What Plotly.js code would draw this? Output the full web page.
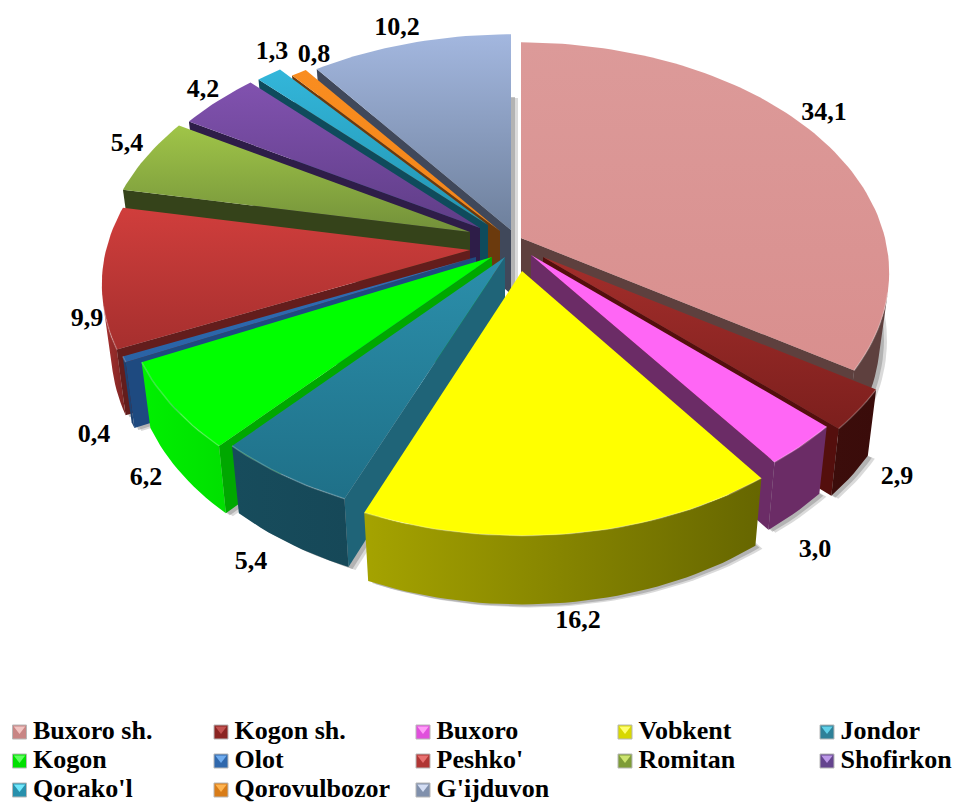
<!DOCTYPE html>
<html><head><meta charset="utf-8">
<script src="https://cdn.plot.ly/plotly-3.0.1.min.js"></script>
<style>html,body{margin:0;padding:0;background:#fff}</style></head>
<body><div id="chart" style="width:956px;height:805px"></div>
<script>
const categories=["Buxoro sh.","Kogon sh.","Buxoro","Vobkent","Jondor","Kogon","Olot","Peshko'","Romitan","Shofirkon","Qorako'l","Qorovulbozor","G'ijduvon"];
const values=[34.1,2.9,3.0,16.2,5.4,6.2,0.4,9.9,5.4,4.2,1.3,0.8,10.2];
// exploded apex of each slice (px), horizontal scale and data-label centres (px)
const apexX=[521,543,531,522,505,492,476,470,470,480,488,500,511];
const apexY=[238,257,255,271,257,257,257,250,232,228,225,231,230];
const widen=[1,1,1,0.983,1,1,1,1,1,1,1,1,1];
const labelX=[824,897,815,578,251,146,94,87,127,203,272,314,397];
const labelY=[113,477,550,621,562,478,435,319,144,90,52,55,28];
// colours: top surface (upper, lower), rim (left, right), cut wall, legend chip
const topHi=["#DC9A99","#A32E2B","#FF66F5","#FFFF00","#2B8FAB","#00FF00","#3070BA","#D03E3C","#A0C548","#8152AF","#33B6DA","#F98D20","#A3B7DF"];
const topLo=["#D98F8E","#7C1F1D","#FF66F5","#FFFF00","#1F7088","#00FF00","#2A62A4","#A62F2E","#73913A","#5F3D87","#2295B2","#F38518","#6E809C"];
const rimL=["#5E403E","#3C0D0B","#6B2C66","#A5A300","#174C5C","#00F000","#1C4272","#A93130","#5C7530","#4A2F6A","#1A7A92","#B06010","#5A6880"];
const rimR=["#5E403E","#3A0C0A","#6B2C66","#666600","#164858","#00E000","#1C4272","#7A2422","#5C7530","#4A2F6A","#1A7A92","#B06010","#5A6880"];
const wall=["#5E403E","#540F0D","#6B2C66","#666600","#1F6478","#00A800","#1E4A80","#631D1C","#35431A","#2E1D48","#0F4B5C","#6B3A0D","#40485A"];
const chipHi=["#F2C4C2","#C25250","#FF9CF8","#FFFF70","#60D0E8","#60FF60","#70ACEE","#E87070","#CCE470","#BC98E8","#70E8FC","#FFB450","#D4DEF4"];
const chipLo=["#C88584","#8A2422","#E050DC","#D8D800","#2E8098","#00E000","#3068AC","#B03634","#7E9C38","#64448E","#2890AC","#D87C18","#8090AC"];
// painter order: back to front
const drawOrder=[12,11,10,9,8,7,6,5,4,0,1,2,3];

const A=364,B=225,K=0.15,S=0.975,D0=64;
const rad=Math.PI/180;
const off=(i,t)=>{const u=Math.sin(t*rad),v=-Math.cos(t*rad),w=1-K*v;return {dx:widen[i]*A*u/w,dy:B*v/w,w};};
const topPt=(i,t)=>{const o=off(i,t);return [apexX[i]+o.dx,apexY[i]+o.dy];};
const botPt=(i,t)=>{const o=off(i,t);return [apexX[i]+S*o.dx,apexY[i]+S*o.dy+D0/o.w];};
const apexTop=i=>[apexX[i],apexY[i]];
const apexBot=i=>[apexX[i],apexY[i]+D0];
const area=p=>{let s=0;for(let a=0;a<p.length;a++){const q=p[(a+1)%p.length];s+=p[a][0]*q[1]-q[0]*p[a][1];}return s/2;};
const traces=[];
const common={mode:'lines',fill:'toself',line:{width:0},hoverinfo:'skip',showlegend:false};
function poly(pts,extra){
  const xs=pts.map(p=>p[0]).concat(pts[0][0]),ys=pts.map(p=>p[1]).concat(pts[0][1]);
  traces.push(Object.assign({type:'scatter',x:xs,y:ys},common,extra));
}
function grad(type,c0,c1){return {fillcolor:c0,fillgradient:{type:type,colorscale:[[0,c0],[1,c1]]}};}

const ranges=[];let cum=0;
values.forEach(v=>{ranges.push([cum*3.6,(cum+v)*3.6]);cum+=v;});

// soft shadows beneath the slices
drawOrder.forEach(i=>{
  const [a,b]=ranges[i];const base=[apexBot(i)];
  for(let t=a;t<b;t+=1.5)base.push(botPt(i,t));base.push(botPt(i,b));
  [[7,3,'rgba(150,150,150,0.35)'],[4,2,'rgba(140,140,140,0.5)']].forEach(s=>{
    poly(base.map(p=>[p[0]+s[0],p[1]+s[1]]),{fillcolor:s[2]});
  });
});

drawOrder.forEach(i=>{
  const [a,b]=ranges[i];
  const ts=[];for(let t=a;t<b;t+=1.5)ts.push(t);ts.push(b);
  // cut walls
  const q1=[apexTop(i),topPt(i,a),botPt(i,a),apexBot(i)];
  const q2=[topPt(i,b),apexTop(i),apexBot(i),botPt(i,b)];
  if(area(q1)<0)poly(q1,{fillcolor:wall[i]});
  if(area(q2)<0)poly(q2,{fillcolor:wall[i]});
  // rim: only the part that faces the viewer
  const vis=[];
  for(let n=0;n<ts.length-1;n++){
    const q=[topPt(i,ts[n]),topPt(i,ts[n+1]),botPt(i,ts[n+1]),botPt(i,ts[n])];
    if(area(q)<0)vis.push(n);
  }
  if(vis.length){
    const sel=ts.slice(vis[0],vis[vis.length-1]+2);
    const rim=sel.map(t=>topPt(i,t)).concat(sel.slice().reverse().map(t=>botPt(i,t)));
    poly(rim,grad('horizontal',rimL[i],rimR[i]));
  }
  // top face (the y axis runs downward, so the scale goes lower colour first)
  const top=[apexTop(i)].concat(ts.map(t=>topPt(i,t)));
  poly(top,grad('vertical',topLo[i],topHi[i]));
  // bevel highlight along the front rim
  if(vis.length){
    const sel=ts.slice(vis[0],vis[vis.length-1]+2);
    traces.push({type:'scatter',mode:'lines',x:sel.map(t=>topPt(i,t)[0]),y:sel.map(t=>topPt(i,t)[1]),
      line:{color:'rgba(255,255,255,0.22)',width:1.5},hoverinfo:'skip',showlegend:false});
  }
});

const serif='"Liberation Serif","Times New Roman",serif';
// value labels
traces.push({type:'scatter',mode:'text',x:labelX,y:labelY,
  text:values.map(v=>v.toFixed(1).replace('.',',')),
  textposition:'middle center',textfont:{family:serif,size:26,color:'#000',weight:'bold'},
  hoverinfo:'skip',showlegend:false});

// legend
const colX=[19.5,221,423,625,827],rowY=[732,761,790],textGap=13.5;
categories.forEach((c,i)=>{
  const x=colX[i%5],y=rowY[Math.floor(i/5)];
  traces.push({type:'scatter',mode:'markers',x:[x],y:[y],hoverinfo:'skip',showlegend:false,
    marker:{symbol:'square',size:14,color:chipLo[i],line:{color:'#B8B8B8',width:1}}});
  traces.push({type:'scatter',mode:'markers',x:[x],y:[y-3],hoverinfo:'skip',showlegend:false,
    marker:{symbol:'triangle-down',size:10,color:chipHi[i],line:{width:0}}});
  traces.push({type:'scatter',mode:'text',x:[x+textGap],y:[y],text:[c],textposition:'middle right',
    textfont:{family:serif,size:26,color:'#000',weight:'bold'},hoverinfo:'skip',showlegend:false});
});

Plotly.newPlot('chart',traces,{
  width:956,height:805,margin:{l:0,r:0,t:0,b:0},showlegend:false,
  paper_bgcolor:'#fff',plot_bgcolor:'#fff',
  xaxis:{range:[0,956],visible:false,fixedrange:true},
  yaxis:{range:[805,0],visible:false,fixedrange:true}
},{displayModeBar:false,staticPlot:true});
</script></body></html>
